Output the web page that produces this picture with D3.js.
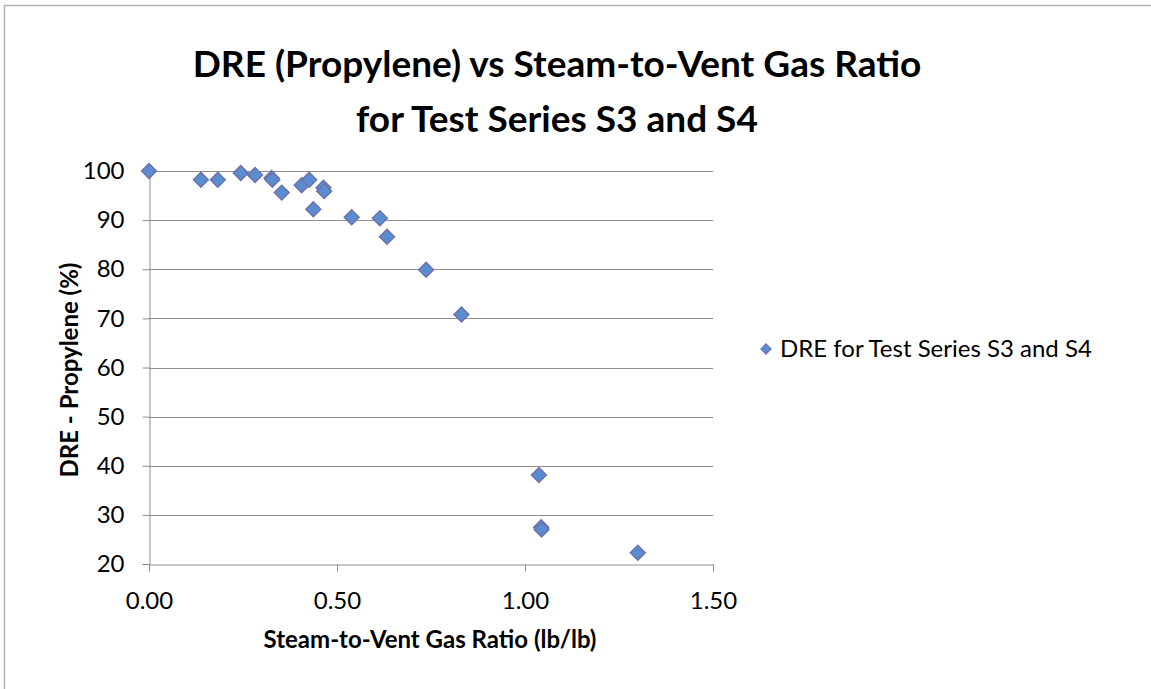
<!DOCTYPE html>
<html lang="en">
<head>
  <meta charset="UTF-8">
  <title>DRE (Propylene) vs Steam-to-Vent Gas Ratio</title>
  <script src="https://d3js.org/d3.v7.min.js"></script>
  <style>
    body {
      margin: 0;
      background: #fff;
      font-family: Lato, 'Open Sans', sans-serif;
    }
    svg { display: block; }
    .tick text { font-family: Lato, sans-serif; }
  </style>
</head>
<body>
  <svg id="chart" width="1151" height="689"></svg>

  <script>
    // steam-to-vent gas ratio (lb/lb)
    const ratio = [0.00, 0.138, 0.183, 0.244, 0.282, 0.326, 0.328, 0.353, 0.406, 0.426,
                   0.437, 0.464, 0.466, 0.539, 0.614, 0.633, 0.737, 0.831, 1.037, 1.043, 1.044, 1.30];
    // DRE - propylene (%)
    const dre = [100.0, 98.2, 98.2, 99.6, 99.2, 98.6, 98.2, 95.6, 97.1, 98.2,
                 92.2, 96.6, 95.9, 90.6, 90.4, 86.6, 79.9, 70.8, 38.1, 27.5, 27.0, 22.3];
    const xTicks = [0, 0.5, 1.0, 1.5];
    const yTicks = [20, 30, 40, 50, 60, 70, 80, 90, 100];
    const seriesName = "DRE for Test Series S3 and S4";

    const points = ratio.map((r, i) => ({ x: r, y: dre[i] }));

    const svg = d3.select("#chart");
    const margin = { left: 149, right: 713, top: 171, bottom: 564 };

    // outer chart border (cropped at right/bottom like the source)
    svg.append("rect")
      .attr("x", 4.5).attr("y", 5.5)
      .attr("width", 1200).attr("height", 800)
      .attr("fill", "none")
      .attr("stroke", "#b4b4b4")
      .attr("stroke-width", 1.5);

    const x = d3.scaleLinear().domain([0, 1.5]).range([margin.left, margin.right]);
    const y = d3.scaleLinear().domain([20, 100]).range([margin.bottom, margin.top]);

    // gridlines
    svg.append("g")
      .selectAll("line")
      .data(yTicks.filter(d => d > 20))
      .enter().append("line")
      .attr("x1", margin.left).attr("x2", margin.right)
      .attr("y1", d => Math.round(y(d)) + 0.5)
      .attr("y2", d => Math.round(y(d)) + 0.5)
      .attr("stroke", "#8e8e8e")
      .attr("stroke-width", 1);

    // y axis
    const yAxis = svg.append("g")
      .attr("transform", `translate(${margin.left + 0.5},0)`)
      .call(d3.axisLeft(y).tickValues(yTicks).tickSize(7).tickPadding(18).tickFormat(d3.format("d")));
    yAxis.select(".domain").attr("stroke", "#8e8e8e");
    yAxis.selectAll(".tick line").attr("stroke", "#8e8e8e");
    yAxis.selectAll(".tick text").attr("font-size", 24).attr("fill", "#000");

    // x axis
    const xAxis = svg.append("g")
      .attr("transform", `translate(0,${margin.bottom + 0.5})`)
      .call(d3.axisBottom(x).tickValues(xTicks).tickSize(7).tickPadding(20).tickFormat(d3.format(".2f")));
    xAxis.select(".domain").attr("stroke", "#8e8e8e");
    xAxis.selectAll(".tick line").attr("stroke", "#8e8e8e");
    xAxis.selectAll(".tick text").attr("font-size", 24).attr("fill", "#000");

    // markers
    const diamond = d3.symbol().type(d3.symbolSquare).size(110);
    svg.append("g")
      .selectAll("path")
      .data(points)
      .enter().append("path")
      .attr("d", diamond)
      .attr("transform", d => `translate(${x(d.x)},${y(d.y)}) rotate(45)`)
      .attr("fill", "#5a8dd0")
      .attr("stroke", "#6e72ae")
      .attr("stroke-width", 1.5);

    // title
    const title = svg.append("text")
      .attr("text-anchor", "middle")
      .attr("font-size", 37)
      .attr("font-weight", "bold")
      .attr("fill", "#000");
    title.append("tspan").attr("x", 557).attr("y", 77).text("DRE (Propylene) vs Steam-to-Vent Gas Ratio");
    title.append("tspan").attr("x", 557).attr("y", 132).text("for Test Series S3 and S4");

    // axis titles
    svg.append("text")
      .attr("x", 430).attr("y", 648)
      .attr("text-anchor", "middle")
      .attr("font-size", 24)
      .attr("font-weight", "bold")
      .text("Steam-to-Vent Gas Ratio (lb/lb)");

    svg.append("text")
      .attr("transform", "translate(78,370) rotate(-90)")
      .attr("text-anchor", "middle")
      .attr("font-size", 24)
      .attr("font-weight", "bold")
      .text("DRE - Propylene (%)");

    // legend
    const legend = svg.append("g").attr("transform", "translate(766,349)");
    legend.append("path")
      .attr("d", d3.symbol().type(d3.symbolSquare).size(55))
      .attr("transform", "rotate(45)")
      .attr("fill", "#5a8dd0")
      .attr("stroke", "#6e72ae")
      .attr("stroke-width", 1);
    legend.append("text")
      .attr("x", 14).attr("y", 8)
      .attr("font-size", 24)
      .text(seriesName);
  </script>
</body>
</html>
